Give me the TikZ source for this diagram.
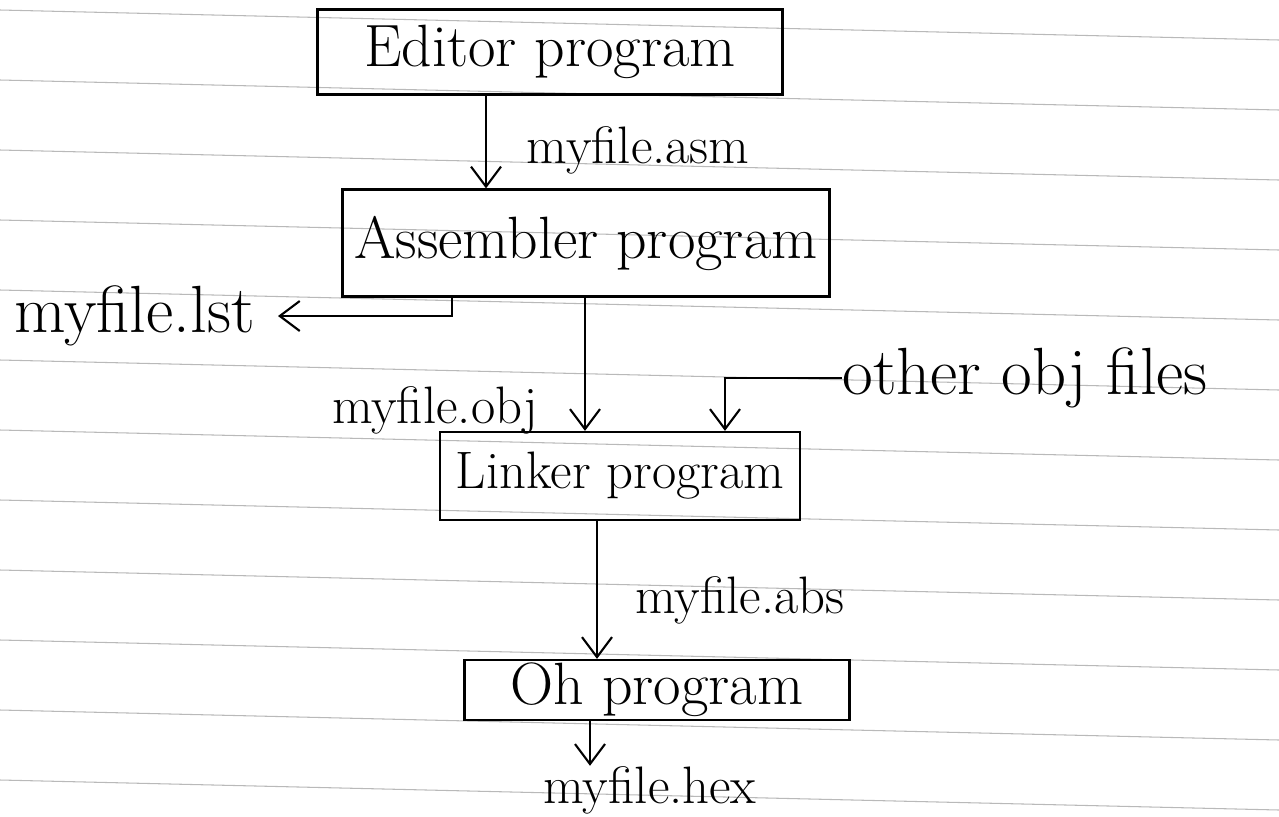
\documentclass[tikz,border=0pt]{standalone}
\usetikzlibrary{arrows.meta}
\begin{document}
\begin{tikzpicture}[x=0.02cm,y=-0.02cm,
  box/.style={draw,line width=1.3pt,inner sep=0pt,font=\fontsize{34}{38}\selectfont},
  lbl/.style={inner sep=0pt,font=\fontsize{30}{34}\selectfont},
  biglbl/.style={lbl,font=\fontsize{38}{42}\selectfont},
  arr/.style={line width=1.2pt,-{Straight Barb[length=4mm,width=6mm]}},
  rule/.style={gray!55,line width=0.6pt}]
\useasboundingbox (0,0) rectangle (1279,816);
% ruled paper lines
\foreach \y in {-15,55,125,195,265,335,405,475,545,615,685,755} {
  \draw[rule] (0,\y+25) -- (1279,\y+55);
}
% boxes
\node[box,minimum width=9.3cm,minimum height=1.7cm] (ed) at (550,52) {Editor program};
\node[box,minimum width=9.74cm,minimum height=2.14cm] (as) at (586,243) {Assembler program};
\node[box,minimum width=7.2cm,minimum height=1.76cm,font=\fontsize{30}{34}\selectfont] (lk) at (620,476) {Linker program};
\node[box,minimum width=7.7cm,minimum height=1.2cm] (oh) at (657,690) {Oh program};
% labels
\node[lbl] (asm) at (638,150) {myfile.asm};
\node[biglbl,anchor=east] (lst) at (255,316) {myfile.lst};
\node[lbl] (obj) at (435,410) {myfile.obj};
\node[biglbl,anchor=west] (oth) at (842,378) {other obj files};
\node[lbl] (abs) at (740,600) {myfile.abs};
\node[lbl] (hex) at (650,790) {myfile.hex};
% guide coordinates
\coordinate (c1) at (486,0);
\coordinate (c2) at (452,0);
\coordinate (c3) at (585,0);
\coordinate (c4) at (725,0);
\coordinate (c5) at (597,0);
\coordinate (c6) at (590,0);
\coordinate (lstend) at (278,0);
% connectors
\draw[arr] (ed.south -| c1) -- (as.north -| c1);
\draw[arr] (as.south -| c2) |- (lst.east -| lstend);
\draw[arr] (as.south -| c3) -- (lk.north -| c3);
\draw[arr] (oth.west) -| (lk.north -| c4);
\draw[arr] (lk.south -| c5) -- (oh.north -| c5);
\draw[arr] (oh.south -| c6) -- (hex.north -| c6);
\end{tikzpicture}
\end{document}
